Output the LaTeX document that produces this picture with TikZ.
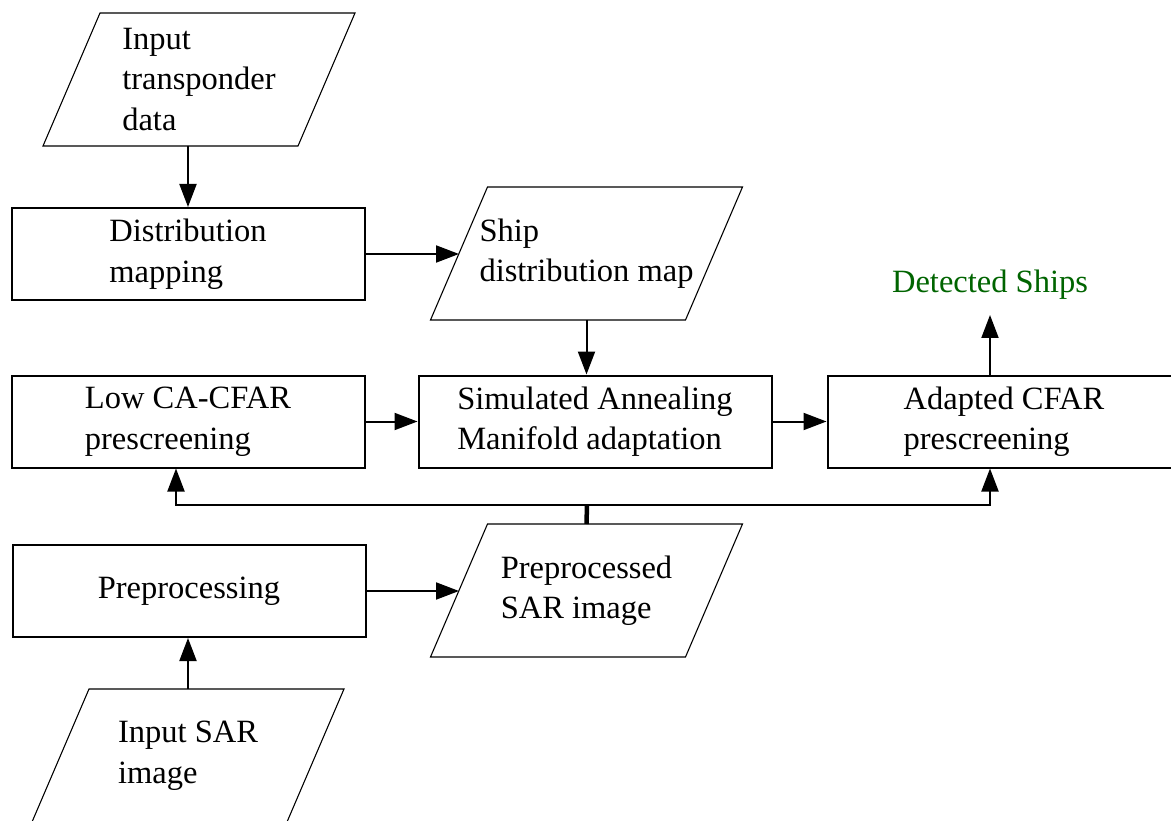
\documentclass[tikz,border=0pt]{standalone}
\usepackage{fontspec}
\setmainfont{Liberation Serif}
\usetikzlibrary{arrows.meta}
\definecolor{shipgreen}{RGB}{0,100,0}
\begin{document}
\begin{tikzpicture}[x=1pt,y=-1pt,
  every node/.style={font=\fontsize{32.5pt}{40.5pt}\selectfont},
  procbox/.style={draw, line width=2pt, rectangle, minimum width=353pt,
    minimum height=92pt, align=left, inner sep=0pt},
  % parallelogram drawn round an invisible 255x133 frame, sides slanted by 57pt
  databox/.style={rectangle, minimum width=255pt, minimum height=133pt,
    align=left, inner sep=0pt, outer sep=0pt,
    append after command={\pgfextra{\draw[line width=1.1pt, line join=miter]
      ([xshift=28.5pt]\tikzlastnode.north west) --
      ([xshift=28.5pt]\tikzlastnode.north east) --
      ([xshift=-28.5pt]\tikzlastnode.south east) --
      ([xshift=-28.5pt]\tikzlastnode.south west) -- cycle;}}},
  flow/.style={line width=2pt, -{Triangle[length=23pt,width=17pt]}},
  thickjoin/.style={line width=4.5pt},
]
\useasboundingbox (0,0) rectangle (1171,821);

% data (parallelogram) nodes
\node[databox] (tp)   at (199,79.5)    {Input\\transponder\\data};
\node[databox] (ship) at (586.5,253.5) {Ship\\distribution map};
\node[databox] (pps)  at (586.5,590.5) {Preprocessed\\SAR image};
\node[databox] (isar) at (188,755.5)   {Input SAR\\image};

% process boxes
\node[procbox] (dm)  at (188,254)    {Distribution\\mapping};
\node[procbox] (low) at (188,421.5)  {Low CA-CFAR\\prescreening};
\node[procbox] (sa)  at (595,421.5)  {Simulated Annealing\\Manifold adaptation};
\node[procbox] (ad)  at (1004,421.5) {Adapted CFAR\\prescreening};
\node[procbox] (pp)  at (189,591)    {Preprocessing};

% output label
\node[text=shipgreen, anchor=base, inner sep=0pt] (ds) at (990,293) {Detected Ships};
\coordinate (dtip) at (990,315);

% feedback bus coordinates
\coordinate (busL) at (176,505);
\coordinate (busR) at (990,505);
\coordinate (busM) at (587,505);

% connectors
\draw[flow] (tp.south -| dm.north) -- (dm.north);
\draw[flow] (dm.east) -- (dm.east -| ship.west);
\draw[flow] (ship.south) -- (ship.south |- sa.north);
\draw[flow] (low.east) -- (sa.west);
\draw[flow] (sa.east) -- (ad.west);
\draw[flow] (ad.north -| dtip) -- (dtip);
\draw[flow] (isar.north) -- (isar.north |- pp.south);
\draw[flow] (pp.east) -- (pp.east -| pps.west);
\draw[flow] (busM) -| (busL |- low.south);
\draw[flow] (busM) -| (busR |- ad.south);
\draw[thickjoin] (pps.north) -- (busM);
\end{tikzpicture}
\end{document}
